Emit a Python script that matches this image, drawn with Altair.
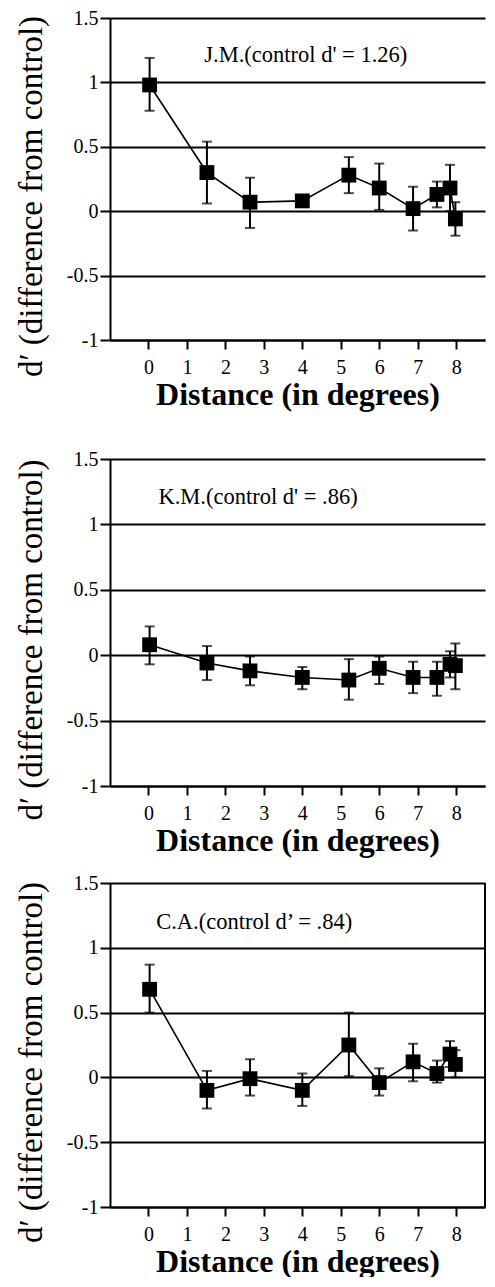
import altair as alt
import pandas as pd

# Distances (degrees) shared by all three observers
distance = [0.03, 1.52, 2.64, 4.0, 5.21, 6.0, 6.88, 7.5, 7.84, 7.98]

# J.M.
jm_mean = [0.98, 0.30, 0.07, 0.08, 0.28, 0.18, 0.02, 0.13, 0.18, -0.06]
jm_hi = [1.19, 0.54, 0.26, 0.11, 0.42, 0.37, 0.19, 0.23, 0.36, 0.07]
jm_lo = [0.78, 0.06, -0.13, 0.05, 0.14, 0.01, -0.15, 0.03, 0.00, -0.19]

# K.M.
km_mean = [0.08, -0.06, -0.12, -0.17, -0.19, -0.10, -0.17, -0.17, -0.07, -0.08]
km_hi = [0.22, 0.07, -0.01, -0.09, -0.03, -0.01, -0.05, -0.05, 0.03, 0.09]
km_lo = [-0.07, -0.19, -0.23, -0.26, -0.34, -0.22, -0.29, -0.31, -0.17, -0.26]

# C.A.
ca_mean = [0.68, -0.10, -0.01, -0.10, 0.25, -0.04, 0.12, 0.03, 0.18, 0.10]
ca_hi = [0.87, 0.05, 0.14, 0.03, 0.50, 0.07, 0.26, 0.13, 0.28, 0.21]
ca_lo = [0.50, -0.24, -0.14, -0.22, 0.01, -0.14, -0.03, -0.04, 0.08, 0.00]

notes = ["J.M.(control d' = 1.26)", "K.M.(control d' = .86)", "C.A.(control d\u2019 = .84)"]
note_x = [4.09, 2.85, 2.75]
note_y = [1.21, 1.21, 1.20]

x_ticks = [0, 1, 2, 3, 4, 5, 6, 7, 8]
y_ticks = [-1, -0.5, 0, 0.5, 1, 1.5]
x_domain = [-1, 8.75]
y_domain = [-1, 1.5]

FONT = "Liberation Serif, Times New Roman, serif"
W = 375


def panel(mean, hi, lo, note, nx, ny, h, right_border=False):
    df = pd.DataFrame({"distance": distance, "mean": mean, "hi": hi, "lo": lo})
    ndf = pd.DataFrame({"x": [nx], "y": [ny], "t": [note]})
    xs = alt.Scale(domain=x_domain, nice=False, zero=False)
    ys = alt.Scale(domain=y_domain, nice=False, zero=False)
    xenc = alt.X(
        "distance:Q",
        scale=xs,
        axis=alt.Axis(
            values=x_ticks, title="Distance (in degrees)", grid=False,
            tickSize=9, labelPadding=8, titlePadding=2,
            labelFont=FONT, titleFont=FONT,
        ),
    )
    yenc = alt.Y(
        "mean:Q",
        scale=ys,
        axis=alt.Axis(
            values=y_ticks, title="d\u2032 (difference from control)",
            grid=True, gridColor="black", gridWidth=2, gridOpacity=1,
            tickSize=10, labelPadding=2,
            labelExpr="'' + datum.value",
            labelFont=FONT, titleFont=FONT,
            titleFontSize=33, titleFontWeight="normal",
            titleX=-79, titleY=h / 2 + 17, titleBaseline="middle",
        ),
    )
    base = alt.Chart(df)
    line = base.mark_line(color="black", strokeWidth=1.6).encode(x=xenc, y=yenc)
    bars = base.mark_rule(color="black", strokeWidth=2).encode(
        x=alt.X("distance:Q", scale=xs), y=alt.Y("lo:Q", scale=ys), y2="hi:Q"
    )
    cap_hi = base.mark_tick(color="black", orient="horizontal", size=10, thickness=2).encode(
        x=alt.X("distance:Q", scale=xs), y=alt.Y("hi:Q", scale=ys)
    )
    cap_lo = base.mark_tick(color="black", orient="horizontal", size=10, thickness=2).encode(
        x=alt.X("distance:Q", scale=xs), y=alt.Y("lo:Q", scale=ys)
    )
    pts = base.mark_square(color="black", size=220, opacity=1).encode(
        x=alt.X("distance:Q", scale=xs), y=alt.Y("mean:Q", scale=ys)
    )
    txt = alt.Chart(ndf).mark_text(
        font=FONT, fontSize=22.5, color="black", align="center", baseline="middle"
    ).encode(
        x=alt.X("x:Q", scale=xs), y=alt.Y("y:Q", scale=ys), text="t:N"
    )
    layers = [line, bars, cap_hi, cap_lo, pts, txt]
    if right_border:
        bdf = pd.DataFrame({"xe": [x_domain[1]], "y0": [y_domain[0]], "y1": [y_domain[1]]})
        border = alt.Chart(bdf).mark_rule(color="black", strokeWidth=2).encode(
            x=alt.X("xe:Q", scale=xs), y=alt.Y("y0:Q", scale=ys), y2="y1:Q"
        )
        layers.append(border)
    return alt.layer(*layers).properties(width=W, height=h)


p1 = panel(jm_mean, jm_hi, jm_lo, notes[0], note_x[0], note_y[0], 322)
p2 = panel(km_mean, km_hi, km_lo, notes[1], note_x[1], note_y[1], 327)
p3 = panel(ca_mean, ca_hi, ca_lo, notes[2], note_x[2], note_y[2], 324, right_border=True)

inner = alt.vconcat(p2, p3, spacing=17)
chart = (
    alt.vconcat(p1, inner, spacing=39)
    .properties(padding={"left": 6, "top": 0, "right": 0, "bottom": 0})
    .configure(
        background="white", font=FONT,
        style={"guide-label": {"font": FONT}, "guide-title": {"font": FONT}},
    )
    .configure_view(stroke=None)
    .configure_axis(
        labelFont=FONT, labelFontSize=20, labelColor="black",
        titleFont=FONT, titleColor="black", titleFontSize=32, titleFontWeight="bold",
        tickColor="black", tickWidth=2, domainColor="black", domainWidth=2,
    )
)

chart.save("out.html", embed_options={"renderer": "svg", "actions": False})
